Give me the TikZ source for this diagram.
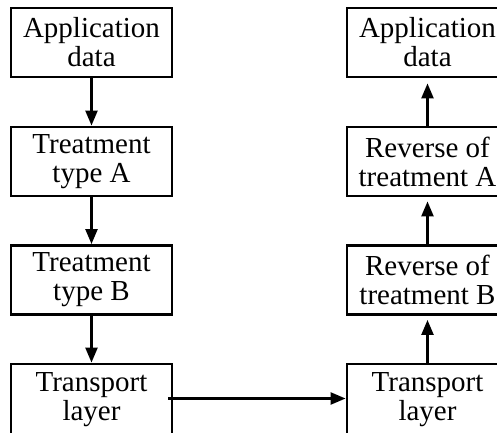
\documentclass[tikz,border=0pt]{standalone}
\usepackage{fontspec}
\setmainfont{Liberation Serif}
\usetikzlibrary{arrows.meta}
\begin{document}
\begin{tikzpicture}[x=1pt,y=-1pt,
  box/.style={draw,line width=2.9pt,minimum width=161pt,minimum height=69pt,inner sep=0pt,
    align=center,font=\fontsize{29}{29}\selectfont},
  lastbox/.style={box,minimum height=71pt},
  flow/.style={line width=2.4pt,-{Triangle[length=15pt,width=12pt]}}]
\useasboundingbox (0,0) rectangle (497,432);
\node[box] (L1) at (91.5,42.5) {Application\\data};
\node[box] (L2) at (91.5,161.5) {Treatment\\type A};
\node[box] (L3) at (91.5,280) {Treatment\\type B};
\node[lastbox] (L4) at (91.5,399.5) {Transport\\layer};
\node[box] (R1) at (427.5,42.5) {Application\\data};
\node[box] (R2) at (427.5,161.5) {Reverse of\\treatment A};
\node[box] (R3) at (427.5,280) {Reverse of\\treatment B};
\node[lastbox] (R4) at (427.5,399.5) {Transport\\layer};
\draw[flow] (L1) -- (L2);
\draw[flow] (L2) -- (L3);
\draw[flow] (L3) -- (L4);
\draw[flow] ([xshift=-5pt,yshift=1pt]L4.east) -- ([yshift=1pt]R4.west);
\draw[flow,shorten >=4pt] (R4) -- (R3);
\draw[flow,shorten >=4pt] (R3) -- (R2);
\draw[flow,shorten >=5pt] (R2) -- (R1);
\end{tikzpicture}
\end{document}
